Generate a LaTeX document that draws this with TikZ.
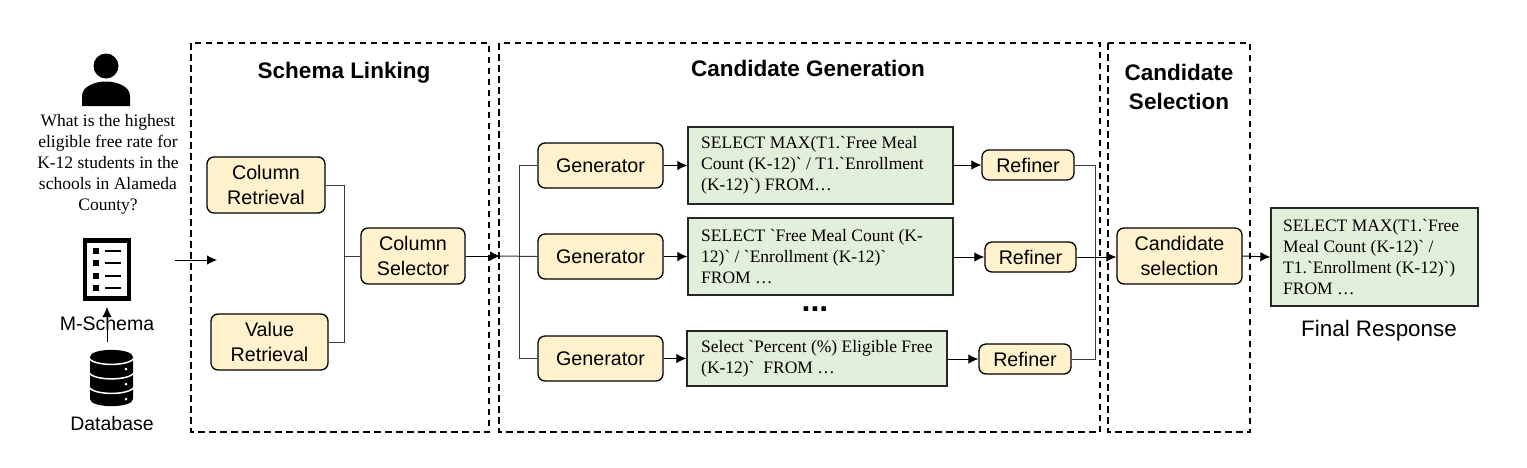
\documentclass[tikz,border=0pt]{standalone}
\usepackage{fontspec}
\setmainfont{Liberation Sans}
\newfontfamily\sqlf{Liberation Serif}
\newfontfamily\labf{Liberation Sans}
\usetikzlibrary{arrows.meta,calc}
\definecolor{boxyellow}{HTML}{FFF2CC}
\definecolor{boxgreen}{HTML}{E2EFDA}
\definecolor{wire}{HTML}{3A3A3A}
\tikzset{
  stage/.style={draw=black,line width=1.3pt,dash pattern=on 6.5pt off 4.5pt},
  stagetitle/.style={font=\labf\fontsize{22.5}{29}\selectfont\bfseries,align=center,inner sep=0pt},
  proc/.style={draw=black,fill=boxyellow,line width=1.3pt,rounded corners=7pt,inner sep=0pt,align=center,
    font=\labf\fontsize{19.7}{25}\selectfont},
  sqlbox/.style={draw=black!85,fill=boxgreen,line width=1.3pt,inner sep=0pt,align=left,
    font=\sqlf\fontsize{17.5}{21}\selectfont},
  caption/.style={font=\labf\fontsize{19.5}{22}\selectfont,inner sep=0pt},
  bus/.style={draw=wire,line width=1pt},
  flow/.style={draw=black,line width=1pt,-{Latex[length=10pt,width=9.5pt]}},
}
\newcommand{\pbox}[7]{\node[#1,minimum width=#5pt-#3pt,minimum height=#6pt-#4pt] (#2) at ({(#3+#5)/2},{(#4+#6)/2}) {#7};}
\begin{document}
\begin{tikzpicture}[x=1pt,y=-1pt]
\useasboundingbox (0,0) rectangle (1527,467);
% stages
\draw[stage] (191,43) rectangle (489,432);
\draw[stage] (499,43) rectangle (1100,432);
\draw[stage] (1108,43) rectangle (1250,432);
\node[stagetitle] (t1) at (344,73) {Schema Linking};
\node[stagetitle] (t2) at (808,68) {Candidate Generation};
\node[stagetitle] (t3) at (1179,87) {Candidate\\Selection};
% person icon
\fill (106,66) circle (12.5);
\fill (82,106) -- (82,96) .. controls (82,87) and (94,81.5) .. (106,81.5) .. controls (118,81.5) and (130,87) .. (130,96) -- (130,106) -- cycle;
\node[font=\sqlf\fontsize{17.5}{21}\selectfont,align=center,inner sep=0pt] (q) at (108,164) {What is the highest\\eligible free rate for\\K-12 students in the\\schools in Alameda\\County?};
% document icon
\draw[line width=4.5pt] (85,240.5) rectangle (129,298.5);
\foreach \yy in {251,263,276,288}{
  \fill (93,\yy-3) rectangle (99,\yy+3);
  \fill (105,\yy-1.2) rectangle (121,\yy+1.2);
}
\coordinate (docb) at (107,307);
\node[caption] (ms) at (107,324) {M-Schema};
% database icon
\coordinate (dbt) at (107,342);
\fill (90,357) .. controls (90,347.5) and (133,347.5) .. (133,357) -- (133,399) .. controls (133,408.5) and (90,408.5) .. (90,399) -- cycle;
\foreach \yt/\yd in {358/369,372.5/384,387/399}{
  \draw[white,line width=1.5pt] (89,\yt) .. controls (93,\yt+8.5) and (130,\yt+8.5) .. (134,\yt);
  \fill[white] (126,\yd) circle (1.5);
}
\node[caption] (dbl) at (112,424) {Database};
\draw[flow] (dbt) -- (docb);
% input arrow
\coordinate (ia) at (175,260);
\coordinate (ib) at (217,260);
\draw[flow] (ia) -- (ib);
% schema linking
\pbox{proc}{cr}{207}{157}{325}{213}{Column\\Retrieval}
\pbox{proc}{vr}{211}{314}{328}{370}{Value\\Retrieval}
\pbox{proc}{cs}{361}{228}{465}{284}{Column\\Selector}
\coordinate (j1) at (344,256);
\draw[bus] (cr.east) -- (344,185) -- (344,342) -- (vr.east);
\draw[bus] (j1) -- (cs.west);
% generators
\pbox{proc}{g1}{538}{143}{663}{188}{Generator}
\pbox{proc}{g2}{538}{234}{663}{279}{Generator}
\pbox{proc}{g3}{538}{336}{663}{381}{Generator}
\coordinate (cgin) at (500,256);
\coordinate (j2) at (519,256);
\draw[flow] (cs.east) -- (cgin);
\draw[bus] (cgin) -- (g2.west);
\draw[bus] (g1.west) -- (j2 |- g1.west) -- (j2 |- g3.west) -- (g3.west);
% sql boxes
\newcommand{\sqlt}[2]{\node[inner sep=0pt,anchor=west,align=left,font=\sqlf\fontsize{17.5}{21}\selectfont] at (#1) {#2};}
\pbox{sqlbox}{s1}{688}{127}{953}{204}{}
\pbox{sqlbox}{s2}{688}{218}{953}{295}{}
\pbox{sqlbox}{s3}{687}{331}{947}{386}{}
\pbox{sqlbox}{s4}{1271}{208}{1478}{306}{}
\sqlt{701,165.5}{SELECT MAX(T1.`Free Meal\\Count (K-12)` / T1.`Enrollment\\(K-12)`) FROM…}
\sqlt{701,257}{SELECT `Free Meal Count (K-\\12)` / `Enrollment (K-12)`\\FROM …}
\sqlt{701,359}{Select `Percent (\%) Eligible Free\\(K-12)`\ \ FROM …}
\sqlt{1283,257}{SELECT MAX(T1.`Free\\Meal Count (K-12)` /\\T1.`Enrollment (K-12)`)\\FROM …}
\node[font=\labf\fontsize{32}{32}\selectfont\bfseries,inner sep=0pt,anchor=base] (dots) at (815,311) {...};
\foreach \a/\b in {g1/s1,g2/s2,g3/s3}{\draw[flow] (\a.east) -- (\a.east -| \b.west);}
% refiners
\pbox{proc}{r1}{982}{150}{1074}{180}{Refiner}
\pbox{proc}{r2}{985}{242}{1076}{272}{Refiner}
\pbox{proc}{r3}{979}{344}{1071}{374}{Refiner}
\draw[flow] (s1.east |- r1.west) -- (r1.west);
\draw[flow] (s2.east |- r2.west) -- (r2.west);
\draw[flow] (s3.east |- r3.west) -- (r3.west);
\coordinate (j3) at (1095,256);
\draw[bus] (r1.east) -- (j3 |- r1.east) -- (j3 |- r3.east) -- (r3.east);
% candidate selection
\pbox{proc}{cd}{1117}{228}{1242}{284}{Candidate\\selection}
\draw[flow] (r2.east) -- (r2.east -| cd.west);
\draw[flow] (cd.east) -- (s4.west);
\node[font=\labf\fontsize{22.4}{24}\selectfont,inner sep=0pt] (fr) at (1379,331) {Final Response};
\end{tikzpicture}
\end{document}
